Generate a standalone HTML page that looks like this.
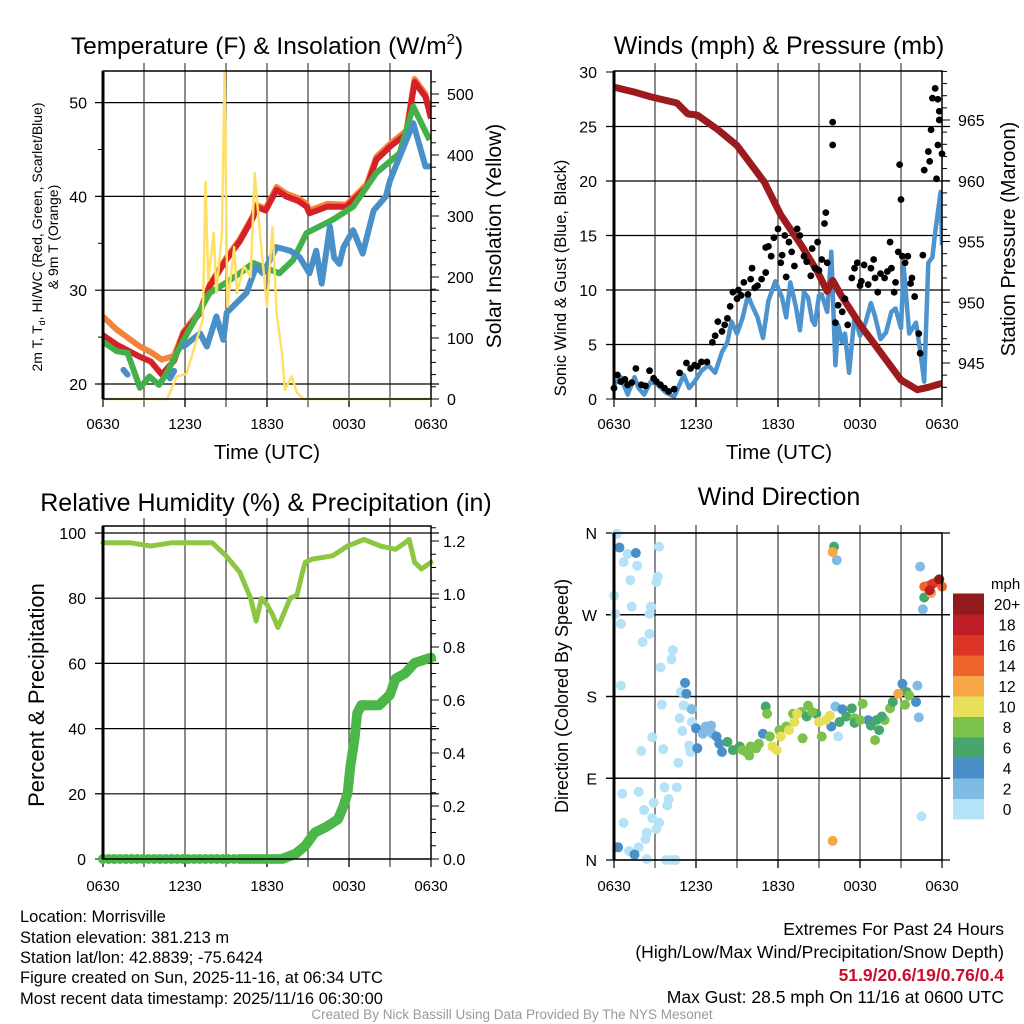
<!DOCTYPE html>
<html><head><meta charset="utf-8">
<style>
html,body{margin:0;padding:0;background:#fff;}
svg{display:block;font-family:"Liberation Sans",Arial,sans-serif;}
</style></head>
<body>
<svg id="chart" xmlns="http://www.w3.org/2000/svg" width="1024" height="1024" viewBox="0 0 1024 1024">
<rect width="1024" height="1024" fill="#fff"/>
<text x="267" y="54" font-size="24.5" text-anchor="middle">Temperature (F) &amp; Insolation (W/m<tspan font-size="15" dy="-10">2</tspan><tspan dy="10">)</tspan></text>
<text x="779" y="54" font-size="25" text-anchor="middle">Winds (mph) &amp; Pressure (mb)</text>
<text x="266" y="511" font-size="25" text-anchor="middle">Relative Humidity (%) &amp; Precipitation (in)</text>
<text x="779" y="505" font-size="25" text-anchor="middle">Wind Direction</text>
<text x="267" y="459" font-size="20.5" text-anchor="middle">Time (UTC)</text>
<text x="779" y="459" font-size="20.5" text-anchor="middle">Time (UTC)</text>
<text transform="translate(42,237) rotate(-90)" font-size="14" text-anchor="middle">2m T, T<tspan font-size="9" dy="3">d</tspan><tspan dy="-3">, HI/WC (Red, Green, Scarlet/Blue)</tspan></text>
<text transform="translate(58,237) rotate(-90)" font-size="14" text-anchor="middle">&amp; 9m T (Orange)</text>
<text transform="translate(501,236) rotate(-90)" font-size="21" text-anchor="middle">Solar Insolation (Yellow)</text>
<text transform="translate(566,278) rotate(-90)" font-size="16.5" text-anchor="middle">Sonic Wind &amp; Gust (Blue, Black)</text>
<text transform="translate(1015,239) rotate(-90)" font-size="20" text-anchor="middle">Station Pressure (Maroon)</text>
<text transform="translate(44,695) rotate(-90)" font-size="22" text-anchor="middle">Percent &amp; Precipitation</text>
<text transform="translate(568,696) rotate(-90)" font-size="18" text-anchor="middle">Direction (Colored By Speed)</text>
<g font-size="16.5">
<text x="20" y="922">Location: Morrisville</text>
<text x="20" y="943">Station elevation: 381.213 m</text>
<text x="20" y="963">Station lat/lon: 42.8839; -75.6424</text>
<text x="20" y="983">Figure created on Sun, 2025-11-16, at 06:34 UTC</text>
<text x="20" y="1004">Most recent data timestamp: 2025/11/16 06:30:00</text>
</g>
<g font-size="17.5" text-anchor="end">
<text x="1004" y="935">Extremes For Past 24 Hours</text>
<text x="1004" y="958">(High/Low/Max Wind/Precipitation/Snow Depth)</text>
<text x="1004" y="981" fill="#c8102e" font-weight="bold">51.9/20.6/19/0.76/0.4</text>
<text x="1004" y="1003">Max Gust: 28.5 mph On 11/16 at 0600 UTC</text>
</g>
<text x="512" y="1019" font-size="13.5" fill="#999" text-anchor="middle">Created By Nick Bassill Using Data Provided By The NYS Mesonet</text>
</svg>
<script>
// ---------- Data ----------
const xTickLabels = ["0630","1230","1830","0030","0630"];
// Panel 1: temperature (hours since 0630 UTC)
const redHours = [0,1,2.7,3.5,4.3,5.2,5.9,7.1,7.8,9.0,10.0,11.0,11.2,11.9,12.7,13.4,14.3,14.9,15.1,16.4,17.8,19.3,20.0,21.0,22.2,22.8,23.6,24];
const redTemp  = [25.2,24.2,22.9,22.4,21.0,22.5,25.4,27.6,30.4,33.2,35.2,37.8,38.9,38.5,40.7,40.0,39.5,38.9,38.2,38.9,38.9,41.0,43.9,45.3,46.7,52.2,50.6,48.3];
const orangeHours = [0,1,2.7,3.5,4.3,5.2,5.9,7.1,7.8,9.0,10.0,11.0,11.2,11.9,12.7,13.4,14.3,14.9,15.1,16.4,17.8,19.3,20.0,21.0,22.2,22.8,23.6,24];
const orangeTemp  = [27.2,25.8,24.0,23.4,22.6,23.0,25.6,27.8,30.6,33.4,35.4,38.0,39.1,38.7,41.0,40.3,39.8,39.2,38.5,39.2,39.1,41.3,44.2,45.6,47.0,52.5,50.9,48.5];
const greenHours = [0,1.0,1.8,2.7,3.4,4.1,4.6,5.9,7.0,7.8,9.0,10.0,11.0,12.9,13.9,14.9,16.8,18.3,20.0,21.7,22.7,23.9];
const greenTemp  = [24.5,23.5,23.3,19.6,20.8,19.9,21.0,24.7,27.6,29.7,30.8,31.8,32.9,31.8,33.2,36.1,37.5,38.9,42.5,44.6,49.6,46.0];
const blueHours = [1.5,1.8,null,4.9,5.2,null,5.9,7.1,7.6,8.3,8.8,9.05,10.5,11.2,11.7,12.7,13.7,14.4,15.1,15.6,16.0,16.6,16.9,17.3,17.6,18.3,19.0,19.8,20.7,21.0,22.0,22.7,23.6,24];
const blueTemp  = [21.5,21.0,null,20.6,21.4,null,24.0,25.4,24.0,27.2,24.7,27.6,29.7,32.5,31.8,34.6,34.2,33.5,31.8,34.2,30.7,36.8,33.5,32.8,34.6,36.4,33.9,38.5,40.0,41.7,45.3,47.8,43.2,43.2];
const solarHours = [0,4.7,5.4,6.1,6.85,7.3,7.5,7.7,8.1,8.3,8.7,8.9,9.1,9.6,9.8,10.3,10.8,11.1,11.4,12.0,12.4,12.7,13.1,13.3,13.8,14.2,14.7,24];
const solarVals  = [0,0,37,41,97,130,356,195,272,174,272,540,151,249,174,218,200,370,293,151,282,141,75,15,37,10,0,0];
// Panel 2: winds & pressure
const presHours = [0,1.5,2.7,4.6,5.4,6.1,7.6,9.0,11.0,12.2,13.7,14.9,15.6,16.0,16.6,18.1,19.1,21.0,22.2,23.0,23.9];
const presVals  = [967.7,967.3,966.9,966.4,965.5,965.4,964.2,962.9,959.9,957.2,954.7,952.5,950.9,951.8,950.6,948.0,946.5,943.6,942.8,943.0,943.3];
const windHours = [0,0.5,1.0,1.5,1.8,2.2,2.7,3.2,3.8,4.4,5.1,5.5,5.9,6.4,6.9,7.4,7.9,8.3,8.6,9.0,9.4,9.8,10.1,10.5,10.9,11.3,11.8,12.3,12.6,12.9,13.3,13.6,13.9,14.2,14.5,14.7,15.0,15.2,15.6,15.9,16.2,16.4,16.7,16.9,17.2,17.6,18.0,18.4,18.8,19.1,19.5,19.9,20.3,20.6,21.0,21.2,21.6,22.1,22.4,22.7,23.0,23.3,23.5,23.9,24];
const windVals  = [1.3,2.0,0.4,2.0,1.0,0.4,1.6,1.3,0.6,0.2,2.2,1.0,1.6,2.6,3.1,2.4,4.3,5.2,7.1,6.0,7.4,9.5,8.6,7.5,5.6,9.0,10.8,9.3,7.5,10.7,8.5,6.3,9.8,9.3,7.2,6.8,9.5,9.6,8.0,13.5,3.1,6.8,5.2,6.0,2.4,7.6,5.8,7.0,8.8,7.6,5.5,6.1,8.0,8.3,6.5,12.2,6.0,7.0,4.5,1.6,12.5,13.0,15.3,19.0,14.1];
const gustHours = [0,0.25,0.5,1.0,1.6,2.0,2.6,2.9,3.4,4.0,4.4,4.8,5.3,5.9,6.4,6.8,7.2,7.6,7.9,8.3,8.7,9.0,9.3,9.5,10.0,10.1,10.5,11.1,11.1,11.5,11.7,12.0,12.2,12.5,12.8,13.2,13.4,13.9,14.4,14.5,14.9,15.2,15.4,15.5,15.6,16.0,16.0,16.4,16.7,17.1,17.4,17.6,18.1,18.3,18.8,19.1,19.3,19.8,20.2,20.3,20.5,20.8,20.9,21.0,21.1,21.5,21.8,22.0,22.3,22.4,22.6,22.7,23.0,23.1,23.2,23.3,23.5,23.6,23.7,23.7,23.8,23.8,24.0,
 0.8,1.3,2.3,3.1,3.7,5.6,6.1,7.4,8.1,8.5,9.1,9.8,10.3,10.8,11.3,12.3,12.6,13.0,13.6,14.1,14.7,15.0,16.2,16.9,17.8,18.0,18.6,19.0,19.5,20.0,20.6,21.3,21.7];
const gustVals  = [1.0,2.2,1.6,1.3,2.8,1.3,2.6,1.9,1.3,0.7,0.9,2.4,3.3,3.1,3.4,3.4,5.2,7.1,6.2,7.4,9.8,9.2,9.5,10.7,11.0,12.0,10.4,11.6,13.9,13.1,14.8,15.6,12.5,15.0,14.4,12.2,15.6,13.1,11.3,13.8,14.4,12.8,16.1,17.1,12.5,25.4,23.3,8.6,8.0,6.8,11.1,12.0,10.8,12.3,12.0,11.1,9.8,11.1,14.4,12.0,9.8,13.5,21.5,18.3,13.1,13.1,11.1,9.4,6.0,4.2,13.2,21.0,22.7,21.8,24.7,27.6,28.5,20.2,27.5,23.3,25.6,26.4,22.5,
 1.8,1.5,1.2,1.6,1.0,2.8,3.0,5.8,6.8,8.5,10.0,9.6,10.2,11.0,14.0,13.2,11.2,13.5,15.0,12.6,12.0,11.8,7.0,9.2,12.5,10.4,10.5,12.8,11.5,11.7,10.7,12.5,10.6];
// Panel 3: RH & precip
const rhHours = [0,2,3.5,5,7,8,9,10,10.8,11.2,11.6,12.0,12.4,12.8,13.2,13.7,14.2,14.6,14.8,15.3,16.8,17.9,19.1,20.3,21.4,22.1,22.4,22.8,23.3,24];
const rhVals  = [97,97,96,97,97,97,93,88,80,73,80,78,75,71,75,80,81,88,91,92,93,96,98,96,95,97,98,91,89,91];
const precipHours = [0,5,10,13.1,13.6,14.1,14.8,15.5,16.3,17.2,17.6,17.9,18.1,18.4,18.6,18.9,19.1,20.2,20.6,21.0,21.4,22.1,22.8,24];
const precipVals  = [0,0,0,0,0.01,0.02,0.05,0.10,0.12,0.15,0.20,0.25,0.35,0.45,0.55,0.58,0.58,0.58,0.60,0.62,0.68,0.70,0.74,0.76];
// Panel 4: wind direction scatter
const dirHours = [0.2,0,0.1,0.5,0.7,1.0,1.2,1.3,1.7,2.1,2.6,2.7,2.6,3.3,3.2,3.1,3.4,4.3,4.2,0.5,3.5,4.9,5.1,4.8,5.0,2.8,2.0,3.6,4.7,0.6,1.8,3.7,4.6,4.0,3.9,2.9,2.2,2.8,3.3,0.7,2.4,2.3,3.1,1.8,1.1,2.4,3.8,4.2,4.5,5.5,5.6,5.7,5.6,22.5,16.4,
 0.4,1.6,0.3,1.5,5.2,5.3,5.7,6.0,6.1,6.7,7.0,7.2,7.5,7.7,7.9,16.3,22.4,22.6,22.2,22.3,22.1,21.1,16.2,16.7,15.9,18.6,10.9,6.5,7.1,
 8.3,8.7,9.2,9.7,10.0,10.4,10.6,11.1,11.2,11.4,12.1,13.1,13.7,14.1,14.2,14.8,15.2,13.8,16.5,17.0,17.4,17.6,18.2,18.8,19.1,19.4,19.8,20.2,20.4,21.4,21.6,21.3,16.1,22.7,17.6,19.2,19.6,9.4,9.9,12.6,14.5,18.0,
 11.6,11.9,12.2,12.8,13.2,13.4,15.0,15.5,15.8,
 16.0,16.0,20.8,23.2,22.7,23.0,23.3,23.1,23.6,24.0,23.8];
const dirDeg = [359,291,271,260,328,337,308,279,324,240,249,279,271,345,312,306,212,231,221,192,171,185,170,156,142,135,120,122,107,73,75,80,80,67,60,63,55,46,41,41,30,23,34,14,10,1,0,0,0,126,119,152,167,48,136,
 344,338,14,6,195,183,166,145,123,147,143,139,136,128,119,330,323,276,192,157,174,194,169,166,147,154,139,139,148,
 130,121,125,119,125,123,128,169,161,136,143,161,163,158,170,161,136,134,152,158,167,156,172,148,132,143,154,167,174,185,181,171,345,289,151,154,158,121,115,147,163,154,
 125,121,136,143,152,161,152,154,159,
 339,21,183,294,301,302,304,297,306,301,309];
const dirSpeed = [1,1,1,1,1,1,1,1,1,1,1,1,1,1,1,1,1,1,1,1,1,1,1,1,1,1,1,1,1,1,1,1,1,1,1,1,1,1,1,1,1,1,1,1,1,1,1,1,1,1,1,1,1,1,1,
 4,4,4,4,4,4,2,4,4,2,2,2,4,5,5,2,2,2,2,2,5,5,2,5,5,5,5,2,2,
 6,6,6,6,8,8,8,6,8,8,8,8,8,6,8,6,8,8,6,6,6,8,8,6,8,6,8,8,6,6,8,8,6,6,6,6,6,8,8,8,8,8,
 10,10,10,10,10,10,10,10,10,
 12,12,12,12,14,14,16,18,16,14,20];
const speedColors = ["#b4e2f6","#80bbe4","#4a8fc7","#47a66c","#7cc14a","#e6df57","#f5a845","#ef632d","#dc3528","#be1d25","#901a1c"];
const speedLabels = ["0","2","4","6","8","10","12","14","16","18","20+"];

// ---------- helpers ----------
const NS = "http://www.w3.org/2000/svg";
const svg = document.getElementById("chart");
const TICK = 16;
function mk(tag, attrs, parent){
  const e = document.createElementNS(NS, tag);
  for (const k in attrs) e.setAttribute(k, attrs[k]);
  (parent||svg).appendChild(e);
  return e;
}
function txt(x,y,s,size,anchor,parent){
  const t = mk("text",{x:x,y:y,"font-size":size,"text-anchor":anchor},parent);
  t.textContent = s;
  return t;
}
function pathFrom(hs, vs, xf, yf){
  let d = "", pen = false;
  for (let i=0;i<hs.length;i++){
    if (hs[i]===null || vs[i]===null){ pen=false; continue; }
    d += (pen?"L":"M") + xf(hs[i]).toFixed(1) + "," + yf(vs[i]).toFixed(1);
    pen = true;
  }
  return d;
}
function panelFrame(x0,x1,y0,y1,hGrid,name){
  const g = mk("g",{});
  
  
  for (let h=3; h<24; h+=3){
    const x = x0 + h*(x1-x0)/24;
    mk("line",{x1:x,x2:x,y1:y0-8,y2:y1+8,stroke:"#000","stroke-width":1.2,"stroke-opacity":0.75},g);
  }
  hGrid.forEach(y=>{ mk("line",{x1:x0-8,x2:x1+8,y1:y,y2:y,stroke:"#000","stroke-width":1.2},g); });
  for (let h=0; h<=24; h+=6){
    const x = x0 + h*(x1-x0)/24;
    mk("line",{x1:x,x2:x,y1:y1,y2:y1+8,stroke:"#000","stroke-width":1.2},g);
  }
  return g;
}
function frameBox(x0,x1,y0,y1,name){
  const r = mk("rect",{x:x0,y:y0,width:x1-x0,height:y1-y0,fill:"none",stroke:"#000","stroke-width":1.5});
  
  
  mk("line",{x1:x0,x2:x0,y1:y0,y2:y1,stroke:"#000","stroke-width":3});
}
function xTicks(x0,x1,y,name){
  const g = mk("g",{});
  
  
  xTickLabels.forEach((s,i)=>{ txt(x0+i*6*(x1-x0)/24, y, s, 15, "middle", g); });
}

// ---------- Panel 1 ----------
(function(){
  const x0=103,x1=431,y0=71,y1=399;
  const X = h => x0 + h*(x1-x0)/24;
  const TY = t => 384 - (t-20)*9.38;
  const SY = s => Math.max(y0, 399 - s*0.61);
  panelFrame(x0,x1,y0,y1,[TY(20),TY(30),TY(40),TY(50)],"temp");
  const ax = mk("g",{});
  
  
  [20,30,40,50].forEach(v=>txt(87,TY(v)+6,String(v),TICK,"end",ax));
  [25,35,45].forEach(v=>mk("line",{x1:x0-5,x2:x0,y1:TY(v),y2:TY(v),stroke:"#000"},ax));
  const ax2 = mk("g",{});
  
  
  for (let v=0; v<=520; v+=20){ mk("line",{x1:x1,x2:x1+(v%100===0?8:5),y1:SY(v),y2:SY(v),stroke:"#000"},ax2); }
  [0,100,200,300,400,500].forEach(v=>txt(447,SY(v)+6,String(v),TICK,"start",ax2));
  const clip = mk("clipPath",{id:"c1"});
  mk("rect",{x:x0,y:y0,width:x1-x0,height:y1-y0},clip);
  const s1 = mk("path",{d:pathFrom(orangeHours,orangeTemp,X,TY),fill:"none",stroke:"#f5833a","stroke-width":6,"stroke-linejoin":"round","clip-path":"url(#c1)"});
  
  
  const s2 = mk("path",{d:pathFrom(redHours,redTemp,X,TY),fill:"none",stroke:"#d62027","stroke-width":6,"stroke-linejoin":"round","clip-path":"url(#c1)"});
  
  
  const s3 = mk("path",{d:pathFrom(greenHours,greenTemp,X,TY),fill:"none",stroke:"#43b04a","stroke-width":6,"stroke-linejoin":"round","clip-path":"url(#c1)"});
  
  
  const s4 = mk("path",{d:pathFrom(blueHours,blueTemp,X,TY),fill:"none",stroke:"#4a90c8","stroke-width":6,"stroke-linejoin":"round","stroke-linecap":"round","clip-path":"url(#c1)"});
  
  
  const s5 = mk("path",{d:pathFrom(solarHours,solarVals,X,SY),fill:"none",stroke:"#ffe066","stroke-width":2.5,"stroke-linejoin":"round"});
  
  
  frameBox(x0,x1,y0,y1,"temp");
  xTicks(x0,x1,429,"temp");
})();

// ---------- Panel 2 ----------
(function(){
  const x0=614,x1=942,y0=71,y1=399;
  const X = h => x0 + h*(x1-x0)/24;
  const WY = w => 399 - w*10.9;
  const PY = p => 120 + (965-p)*12.15;
  panelFrame(x0,x1,y0,y1,[WY(5),WY(10),WY(15),WY(20),WY(25)],"wind");
  const ax = mk("g",{});
  
  
  [0,5,10,15,20,25,30].forEach(v=>{ txt(597,WY(v)+6,String(v),TICK,"end",ax); mk("line",{x1:x0-8,x2:x0,y1:WY(v),y2:WY(v),stroke:"#000"},ax); });
  const ax2 = mk("g",{});
  
  
  for (let p=943; p<=969; p++){ mk("line",{x1:x1,x2:x1+(p%5===0?8:5),y1:PY(p),y2:PY(p),stroke:"#000"},ax2); }
  [945,950,955,960,965].forEach(v=>txt(958,PY(v)+6,String(v),TICK,"start",ax2));
  const clip = mk("clipPath",{id:"c2"});
  mk("rect",{x:x0,y:y0,width:x1-x0,height:y1-y0},clip);
  const wl = mk("path",{d:pathFrom(windHours,windVals,X,WY),fill:"none",stroke:"#4d93cd","stroke-width":4.5,"stroke-linejoin":"round","clip-path":"url(#c2)"});
  
  
  const pl = mk("path",{d:pathFrom(presHours,presVals,X,PY),fill:"none",stroke:"#9b1b1e","stroke-width":7,"stroke-linejoin":"round","stroke-linecap":"round","clip-path":"url(#c2)"});
  
  
  const gg = mk("g",{});
  
  
  gustHours.forEach((h,i)=>{
    const c = mk("circle",{cx:X(h),cy:WY(gustVals[i]),r:3.4,fill:"#000"},gg);
    
    
  });
  frameBox(x0,x1,y0,y1,"wind");
  xTicks(x0,x1,429,"wind");
})();

// ---------- Panel 3 ----------
(function(){
  const x0=103,x1=431,y0=526,y1=859;
  const X = h => x0 + h*(x1-x0)/24;
  const RY = r => 859 - r*3.26;
  const PY = p => 859 - p*265;
  panelFrame(x0,x1,y0,y1,[RY(20),RY(40),RY(60),RY(80),RY(100)],"rh");
  const ax = mk("g",{});
  
  
  [0,20,40,60,80,100].forEach(v=>{ txt(86,RY(v)+6,String(v),TICK,"end",ax); mk("line",{x1:x0-8,x2:x0,y1:RY(v),y2:RY(v),stroke:"#000"},ax); });
  const ax2 = mk("g",{});
  
  
  for (let i=0;i<=25;i++){ const p=i*0.05; mk("line",{x1:x1,x2:x1+(i%4===0?8:5),y1:PY(p),y2:PY(p),stroke:"#000"},ax2); }
  ["0.0","0.2","0.4","0.6","0.8","1.0","1.2"].forEach((s,i)=>txt(443,PY(i*0.2)+6,s,TICK,"start",ax2));
  const rl = mk("path",{d:pathFrom(rhHours,rhVals,X,RY),fill:"none",stroke:"#8dc641","stroke-width":5,"stroke-linejoin":"round","stroke-linecap":"round"});
  
  
  const pg = mk("g",{});
  
  
  for (let i=0;i<precipHours.length-1;i++){
    const steps = 12;
    for (let k=0;k<steps;k++){
      const f=k/steps;
      const h = precipHours[i]+(precipHours[i+1]-precipHours[i])*f;
      const p = precipVals[i]+(precipVals[i+1]-precipVals[i])*f;
      const c = mk("circle",{cx:X(h),cy:PY(p),r:5,fill:"#4cb748"},pg);
      
      
    }
  }
  const last = mk("circle",{cx:X(precipHours[precipHours.length-1]),cy:PY(precipVals[precipVals.length-1]),r:5,fill:"#4cb748"},pg);
  
  
  frameBox(x0,x1,y0,y1,"rh");
  xTicks(x0,x1,891,"rh");
})();

// ---------- Panel 4 ----------
(function(){
  const x0=614,x1=942,y0=533,y1=860;
  const X = h => x0 + h*(x1-x0)/24;
  const DY = d => 860 - d*0.9083;
  panelFrame(x0,x1,y0,y1,[DY(90),DY(180),DY(270)],"dir");
  const ax = mk("g",{});
  
  
  [["N",0],["E",90],["S",180],["W",270],["N",360]].forEach(a=>{ txt(597,DY(a[1])+6,a[0],TICK,"end",ax); mk("line",{x1:x0-8,x2:x1+8,y1:DY(a[1]),y2:DY(a[1]),stroke:"#000","stroke-width":1.2},ax); });
  const dg = mk("g",{});
  
  
  dirHours.forEach((h,i)=>{
    const idx = Math.min(10, Math.floor(dirSpeed[i]/2));
    const c = mk("circle",{cx:X(h),cy:DY(dirDeg[i]),r:5,fill:speedColors[idx]},dg);
    
    
  });
  frameBox(x0,x1,y0,y1,"dir");
  xTicks(x0,x1,891,"dir");
  // colorbar
  const cb = mk("g",{});
  
  
  txt(991,589,"mph",15,"start",cb);
  const bh = 20.5;
  for (let i=0;i<11;i++){
    const y = 819 - (i+1)*bh;
    const r = mk("rect",{x:953,y:y,width:31,height:bh+0.5,fill:speedColors[i]},cb);
    
    
    txt(1007,y+bh/2+6,speedLabels[i],15.5,"middle",cb);
  }
})();
</script>
</body></html>
